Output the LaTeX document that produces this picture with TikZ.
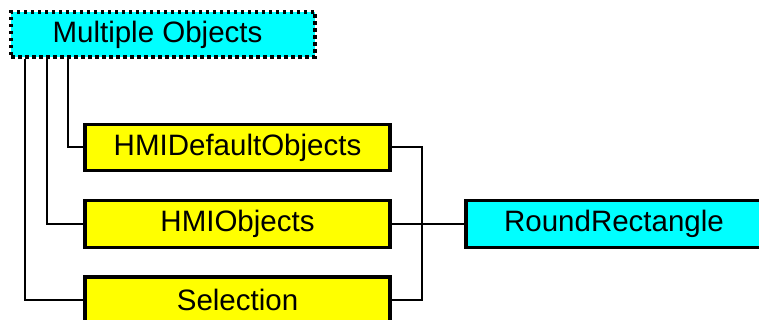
\documentclass[tikz,border=0pt]{standalone}
\usepackage{fontspec}
\setmainfont{Liberation Sans}
\definecolor{boxcyan}{RGB}{0,255,255}
\definecolor{boxyellow}{RGB}{255,255,0}
\begin{document}
\begin{tikzpicture}[x=1pt,y=-1pt,
  box/.style={draw=black,line width=3.2pt,inner sep=0pt,font=\fontsize{29.5}{32}\selectfont,text=black},
  ybox/.style={box,fill=boxyellow},
  cbox/.style={box,fill=boxcyan},
  conn/.style={draw=black,line width=2pt}]
\useasboundingbox (0,0) rectangle (759,320);
\clip (0,0) rectangle (759,320);
\node[cbox,dash pattern=on 3.5pt off 3.5pt,minimum width=304pt,minimum height=45pt] (mo) at (163,34.5) {Multiple Objects\hspace*{11pt}};
\node[ybox,minimum width=305pt,minimum height=46pt] (hd) at (237.5,147.5) {HMIDefaultObjects};
\node[ybox,minimum width=305pt,minimum height=47pt] (ho) at (237.5,224) {HMIObjects};
\node[ybox,minimum width=305pt,minimum height=46pt] (se) at (237.5,300) {Selection};
\node[cbox,minimum width=296pt,minimum height=47pt] (rr) at (614,224) {RoundRectangle};
\draw[conn] ([xshift=59pt]mo.south west) |- (hd.west);
\draw[conn] ([xshift=38pt]mo.south west) |- (ho.west);
\draw[conn] ([xshift=16pt]mo.south west) |- (se.west);
\coordinate (j) at (422,224);
\draw[conn] (hd.east) -| (j) |- (se.east);
\draw[conn] (ho.east) -- (rr.west);
\end{tikzpicture}
\end{document}
